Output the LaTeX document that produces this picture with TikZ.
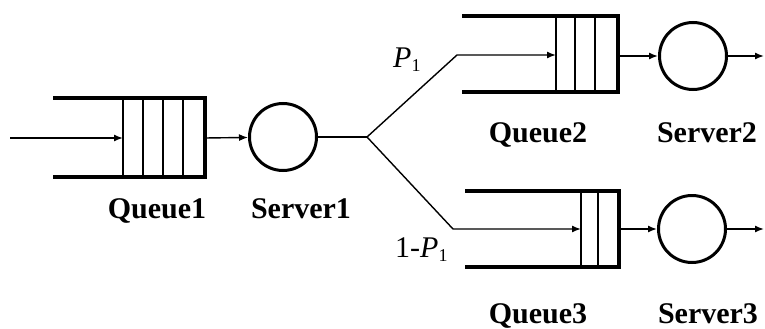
\documentclass[tikz,border=0pt]{standalone}
\usepackage{fontspec}
\setmainfont{Liberation Serif}
\usetikzlibrary{arrows.meta}
\begin{document}
\begin{tikzpicture}[x=1pt,y=-1pt,
  wall/.style={line width=3.2pt,line join=miter},
  cell/.style={line width=1.4pt},
  flow/.style={line width=1.4pt,-{Latex[length=9pt,width=7pt]}},
  link/.style={line width=1.4pt},
  server/.style={circle,draw,line width=3pt,minimum size=67pt,inner sep=0pt},
  lbl/.style={font=\fontsize{30}{30}\selectfont\bfseries,anchor=base},
  prob/.style={font=\fontsize{30}{30}\selectfont,anchor=base west,inner sep=0pt}]
\useasboundingbox (0,0) rectangle (765,329);

% Queue1
\draw[wall] (53,98) -- (205,98) -- (205,177) -- (53,177);
\foreach \x in {123,143,163,183} \draw[cell] (\x,98) -- (\x,177);
\coordinate (src) at (10,138);
\coordinate (q1in) at (123,138);
\coordinate (q1out) at (205,138);
\draw[flow] (src) -- (q1in);

% Server1
\node[server] (s1) at (283,137) {};
\draw[flow] (q1out) -- (s1);
\coordinate (fork) at (367,137);
\draw[link] (s1) -- (fork);

% Upper branch, Queue2
\coordinate (up) at (457,55);
\coordinate (q2in) at (556,55);
\draw[flow] (fork) -- (up) -- (q2in);
\draw[wall] (462,16) -- (618,16) -- (618,92) -- (462,92);
\foreach \x in {556,575,595} \draw[cell] (\x,16) -- (\x,92);
\coordinate (q2out) at (618,56);
\node[server] (s2) at (693,56) {};
\draw[flow] (q2out) -- (s2);
\coordinate (out2) at (764,56);
\draw[flow] (s2) -- (out2);

% Lower branch, Queue3
\coordinate (down) at (453,229);
\coordinate (q3in) at (581,229);
\draw[flow] (fork) -- (down) -- (q3in);
\draw[wall] (465,191) -- (619,191) -- (619,267) -- (465,267);
\foreach \x in {581,598} \draw[cell] (\x,191) -- (\x,267);
\coordinate (q3out) at (619,229);
\node[server] (s3) at (692,229) {};
\draw[flow] (q3out) -- (s3);
\coordinate (out3) at (764,229);
\draw[flow] (s3) -- (out3);

% Labels
\node[lbl] (lq1) at (157,218) {Queue1};
\node[lbl] (ls1) at (301,218) {Server1};
\node[lbl] (lq2) at (538,142) {Queue2};
\node[lbl] (ls2) at (707,142) {Server2};
\node[lbl] (lq3) at (538,323) {Queue3};
\node[lbl] (ls3) at (708,323) {Server3};
\node[prob] (p1) at (393,67) {\textit{P}\raisebox{-4pt}{\fontsize{18}{18}\selectfont 1}};
\node[prob] (p2) at (395,257) {1-\textit{P}\raisebox{-4pt}{\fontsize{18}{18}\selectfont 1}};
\end{tikzpicture}
\end{document}
